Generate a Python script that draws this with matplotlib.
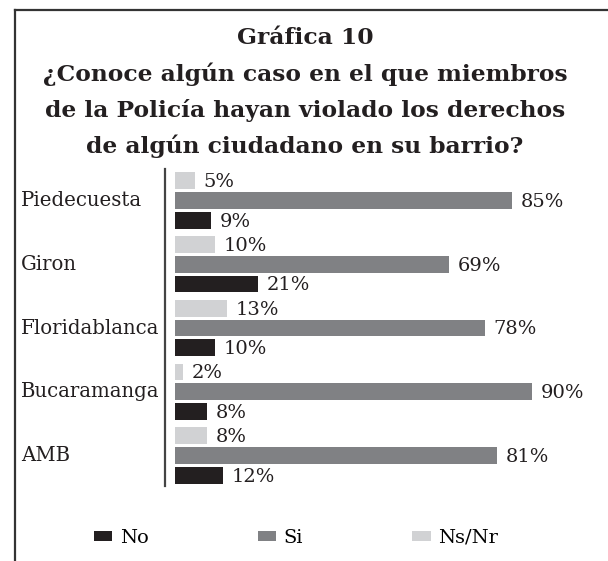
import matplotlib
matplotlib.use("Agg")
import matplotlib.pyplot as plt
import matplotlib.transforms as mtransforms
from matplotlib.lines import Line2D
import numpy as np

# ---- data ----
categories = ["Piedecuesta", "Giron", "Floridablanca", "Bucaramanga", "AMB"]
ns_nr = [5, 10, 13, 2, 8]
si = [85, 69, 78, 90, 81]
no = [9, 21, 10, 8, 12]
series_names = ["No", "Si", "Ns/Nr"]
title_lines = ["Gráfica 10",
               "¿Conoce algún caso en el que miembros",
               "de la Policía hayan violado los derechos",
               "de algún ciudadano en su barrio?"]

# ---- style ----
C_NO = "#231f20"
C_SI = "#808184"
C_NS = "#d1d2d4"
FONT = "DejaVu Serif"
plt.rcParams["font.family"] = [FONT]

W, H = 608, 561
fig = plt.figure(figsize=(W / 100, H / 100), dpi=100)

# frame (top and left lines)
fig.add_artist(Line2D([15 / W, 1.0], [1 - 10 / H, 1 - 10 / H], transform=fig.transFigure,
                      color="#333333", lw=1.6))
fig.add_artist(Line2D([15 / W, 15 / W], [1 - 10 / H, 0.0], transform=fig.transFigure,
                      color="#333333", lw=1.6))

# title
for i, line in enumerate(title_lines):
    fig.text(305 / W, 1 - (38 + i * 36) / H, line, ha="center", va="center",
             fontsize=16.8, fontweight="bold", family=FONT, color="#231f20")

# axes
ax_left, ax_top, ax_right, ax_bottom = 165, 169, 600, 486
ax = fig.add_axes([ax_left / W, 1 - ax_bottom / H, (ax_right - ax_left) / W,
                   (ax_bottom - ax_top) / H])

n = len(categories)
ypos = np.arange(n)[::-1].astype(float)  # Piedecuesta on top
off = 0.31
h = 0.26

b_ns = ax.barh(ypos + off, ns_nr, height=h, color=C_NS, label="Ns/Nr")
b_si = ax.barh(ypos, si, height=h, color=C_SI, label="Si")
b_no = ax.barh(ypos - off, no, height=h, color=C_NO, label="No")

for vals, dy in ((ns_nr, off), (si, 0.0), (no, -off)):
    for v, y in zip(vals, ypos):
        ax.text(v + 2.2, y + dy - 0.02, f"{v}%", va="center", ha="left", fontsize=14,
                color="#231f20")

px_per_unit = 3.97
ax.set_xlim(-(175 - ax_left) / px_per_unit, (ax_right - 175) / px_per_unit)
pitch = 63.75
ax.set_ylim(-(ax_bottom - 455.5) / pitch, (455.5 - ax_top) / pitch)

for s in ("top", "right", "bottom"):
    ax.spines[s].set_visible(False)
ax.spines["left"].set_color("#444444")
ax.spines["left"].set_linewidth(1.6)
ax.set_xticks([])
ax.set_yticks([])
ax.patch.set_alpha(0)

# category labels, left aligned
trans = mtransforms.blended_transform_factory(fig.transFigure, ax.transData)
for cat, y in zip(categories, ypos):
    ax.text(21 / W, y, cat, transform=trans, ha="left", va="center", fontsize=14.2,
            color="#231f20")

# legend
fig.legend([b_no, b_si, b_ns], series_names, loc="center",
           bbox_to_anchor=(296 / W, 1 - 538 / H), ncol=3, frameon=False,
           fontsize=14, handlelength=0.95, handleheight=0.38, handletextpad=0.4,
           columnspacing=5.6)

fig.savefig("out.png", dpi=100)
